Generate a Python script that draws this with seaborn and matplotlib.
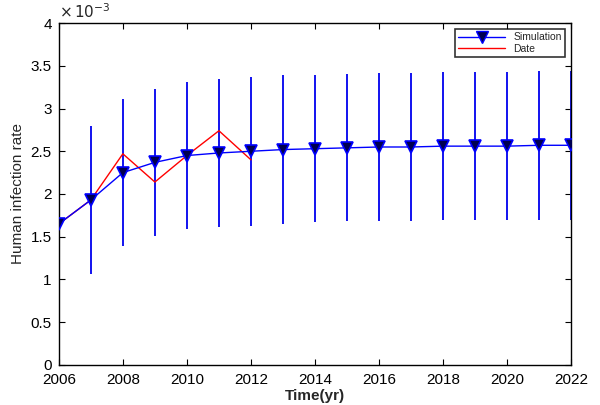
import numpy as np
import pandas as pd
import seaborn as sns
import matplotlib.pyplot as plt
from matplotlib.lines import Line2D

# values in units of 1e-3
years = list(range(2006, 2023))
sim_mean = [1.65, 1.93, 2.25, 2.37, 2.45, 2.48, 2.50, 2.52, 2.53, 2.54,
            2.55, 2.55, 2.56, 2.56, 2.56, 2.57, 2.57]
sim_err = [0.85, 0.87, 0.86, 0.86, 0.86, 0.87, 0.87, 0.87, 0.86, 0.86,
           0.87, 0.87, 0.87, 0.87, 0.87, 0.87, 0.87]
data_years = [2006, 2007, 2008, 2009, 2010, 2011, 2012]
data_vals = [1.65, 1.93, 2.47, 2.14, 2.45, 2.74, 2.40]

sns.set_style("ticks")
plt.rcParams['font.family'] = ['Liberation Sans', 'DejaVu Sans']

sim = pd.DataFrame({"year": years, "rate": sim_mean, "err": sim_err})
obs = pd.DataFrame({"year": data_years, "rate": data_vals})

fig = plt.figure(figsize=(6, 4.05), dpi=100)
ax = fig.add_axes([0.098, 0.099, 0.854, 0.844])

ax.errorbar(sim["year"], sim["rate"], yerr=sim["err"], fmt='none',
            ecolor='#0000ee', elinewidth=1.3, capsize=0, zorder=2)
sns.lineplot(data=sim, x="year", y="rate", ax=ax, color='#0000ff', lw=1,
             marker='v', markersize=8, markerfacecolor='#000050',
             markeredgecolor='#0000ff', markeredgewidth=1.2, zorder=4)
sns.lineplot(data=obs, x="year", y="rate", ax=ax, color='#ff0000', lw=1, zorder=3)

ax.set_xlim(2006, 2022)
ax.set_ylim(0, 4)
ax.set_xticks(range(2006, 2023, 2))
ax.set_yticks(np.arange(0, 4.01, 0.5))
ax.set_yticklabels([f"{v:g}" for v in np.arange(0, 4.01, 0.5)])
ax.tick_params(direction='in', top=True, right=True, labelsize=11, length=4,
               color='black', labelcolor='black')
ax.tick_params(axis='x', pad=6)
ax.tick_params(axis='y', pad=5)
for s in ax.spines.values():
    s.set_visible(True)
    s.set_color('black')
    s.set_linewidth(1)
ax.set_xlabel("Time(yr)", fontsize=11, fontweight='bold', labelpad=1)
ax.set_ylabel("Human infection rate", fontsize=11, labelpad=4)
ax.text(0.0, 1.005, r"$\times\,10^{-3}$", transform=ax.transAxes, fontsize=11,
        ha='left', va='bottom')

handles = [Line2D([], [], color='#0000ff', lw=1, marker='v', markersize=8,
                  markerfacecolor='#000050', markeredgecolor='#0000ff'),
           Line2D([], [], color='#ff0000', lw=1)]
leg = ax.legend(handles, ["Simulation", "Date"], loc='upper right',
                fontsize=7.5, frameon=True, fancybox=False, borderpad=0.3,
                handlelength=4.5, labelspacing=0.1, borderaxespad=0.6)
leg.get_frame().set_edgecolor('black')
leg.get_frame().set_linewidth(1.2)

fig.savefig("out.png", dpi=100)
